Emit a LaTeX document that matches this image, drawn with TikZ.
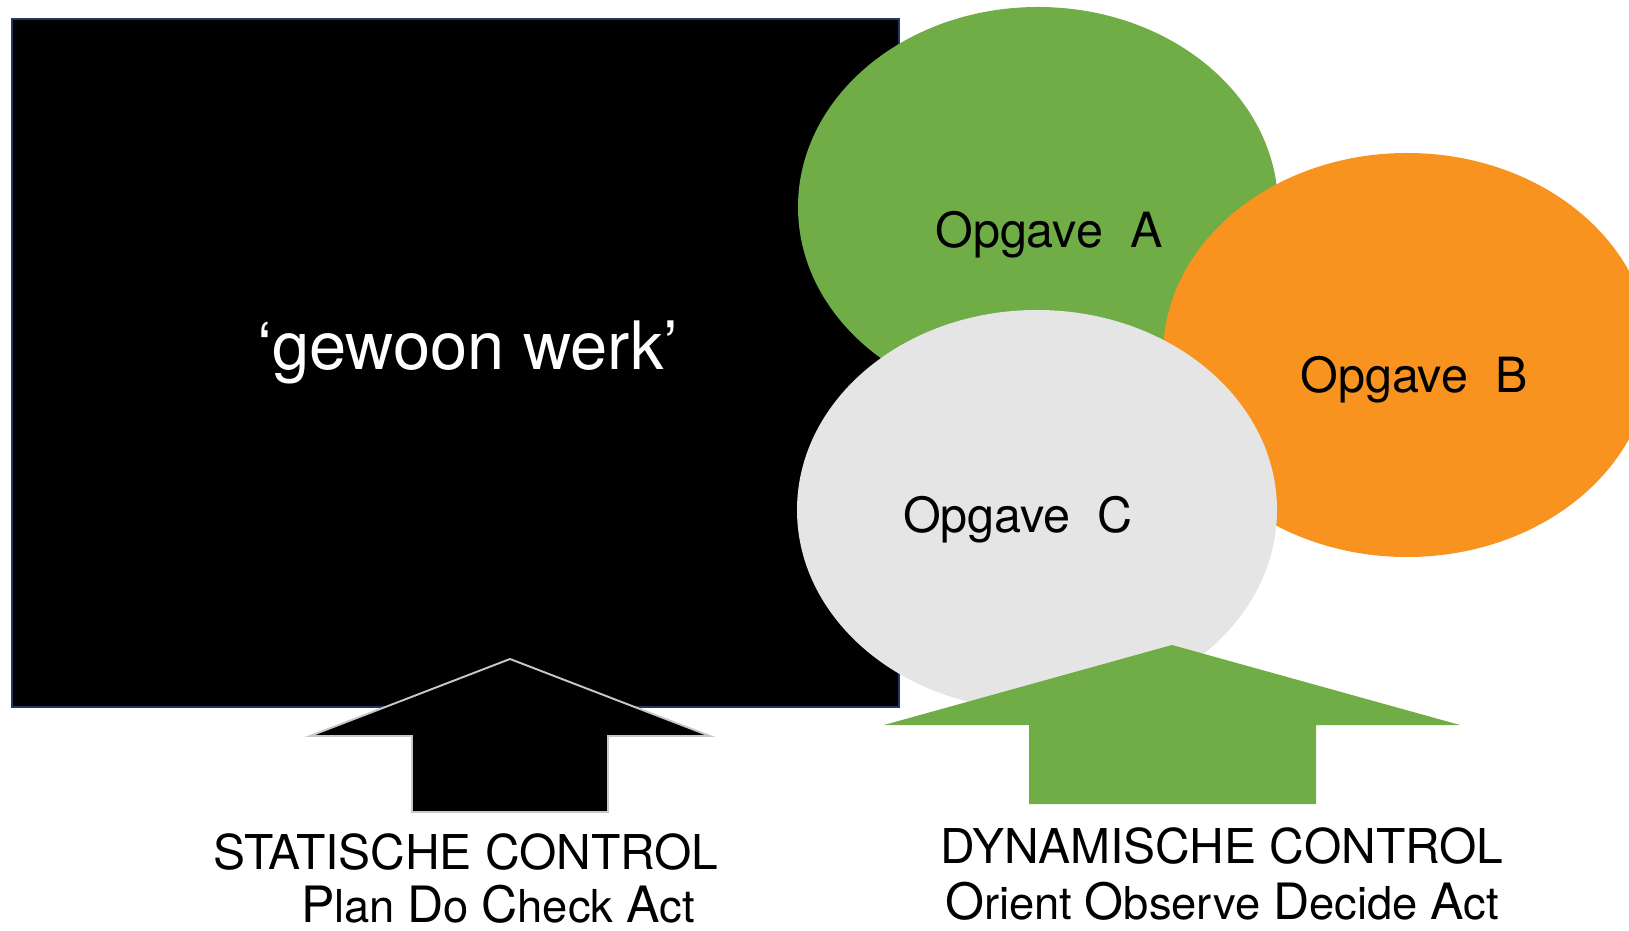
\documentclass[tikz,border=0pt]{standalone}
\usepackage{fontspec}
\setmainfont{TeX Gyre Heros}
\usetikzlibrary{shapes.geometric}

\definecolor{taskgreen}{HTML}{70AD47}
\definecolor{taskorange}{HTML}{F7931E}
\definecolor{taskgray}{HTML}{E5E5E5}
\definecolor{frameblue}{HTML}{1F3864}

% outlines of the two big arrows, in pixel units
\def\staticarrow{(412,118) -- (412,194) -- (310,194) -- (510,271) -- (710,194) -- (608,194) -- (608,118) -- cycle}
\def\dynamicarrow{(1029,126) -- (1029,205) -- (884,205) -- (1172,285) -- (1460,205) -- (1316,205) -- (1316,126) -- cycle}

% first letter a little larger than the rest
\newcommand\bigfirst[1]{{\fontsize{28.5}{30}\selectfont #1}}

\tikzset{
  task/.style={ellipse, inner sep=0pt, minimum width=96mm, minimum height=80mm},
  tasklabel/.style={anchor=base, font=\fontsize{27.6}{30}\selectfont},
  controllabel/.style={anchor=base, font=\fontsize{27.3}{30}\selectfont},
  sublabel/.style={anchor=base, font=\fontsize{25.8}{30}\selectfont},
}

\begin{document}
\begin{tikzpicture}[x=0.2mm, y=0.2mm]
    % Fix the page to the size of the picture and cut off
    % whatever sticks out (the orange ellipse does).
    \useasboundingbox (0,0) rectangle (1629,930);
    \clip (0,0) rectangle (1629,930);
    % The black block for the normal work
    \node[fill=black, draw=frameblue, line width=1.2pt, inner sep=0pt,
          minimum width=177.4mm, minimum height=137.6mm] (werk) at (455.5,567) {};
    % The three tasks; the later ones lie on top
    \node[task, fill=taskgreen] (opgaveA) at (1038,723) {};
    \node[task, fill=taskorange, minimum width=97.6mm, minimum height=80.8mm] (opgaveB) at (1407,575) {};
    \node[task, fill=taskgray] (opgaveC) at (1037,420) {};
    % Then the arrows on top of everything
    \filldraw[fill=black, draw=black!22, line width=1.1pt] \staticarrow;
    \fill[taskgreen] \dynamicarrow;
    % Texts
    \node[anchor=base, text=white, font=\fontsize{38}{42}\selectfont] (werklabel) at (468,561) {‘gewoon werk’};
    \node[tasklabel] (labelA) at (1049,683) {Opgave\ \ A};
    \node[tasklabel] (labelB) at (1414,538) {Opgave\ \ B};
    \node[tasklabel] (labelC) at (1018,398) {Opgave\ \ C};
    \node[controllabel] (statisch) at (466,61) {STATISCHE CONTROL};
    \node[sublabel] (pdca) at (498,8) {\bigfirst{P}lan \bigfirst{D}o \bigfirst{C}heck \bigfirst{A}ct};
    \node[controllabel] (dynamisch) at (1222,67) {DYNAMISCHE CONTROL};
    \node[sublabel] (ooda) at (1222,11) {\bigfirst{O}rient \bigfirst{O}bserve \bigfirst{D}ecide \bigfirst{A}ct};
\end{tikzpicture}
\end{document}
